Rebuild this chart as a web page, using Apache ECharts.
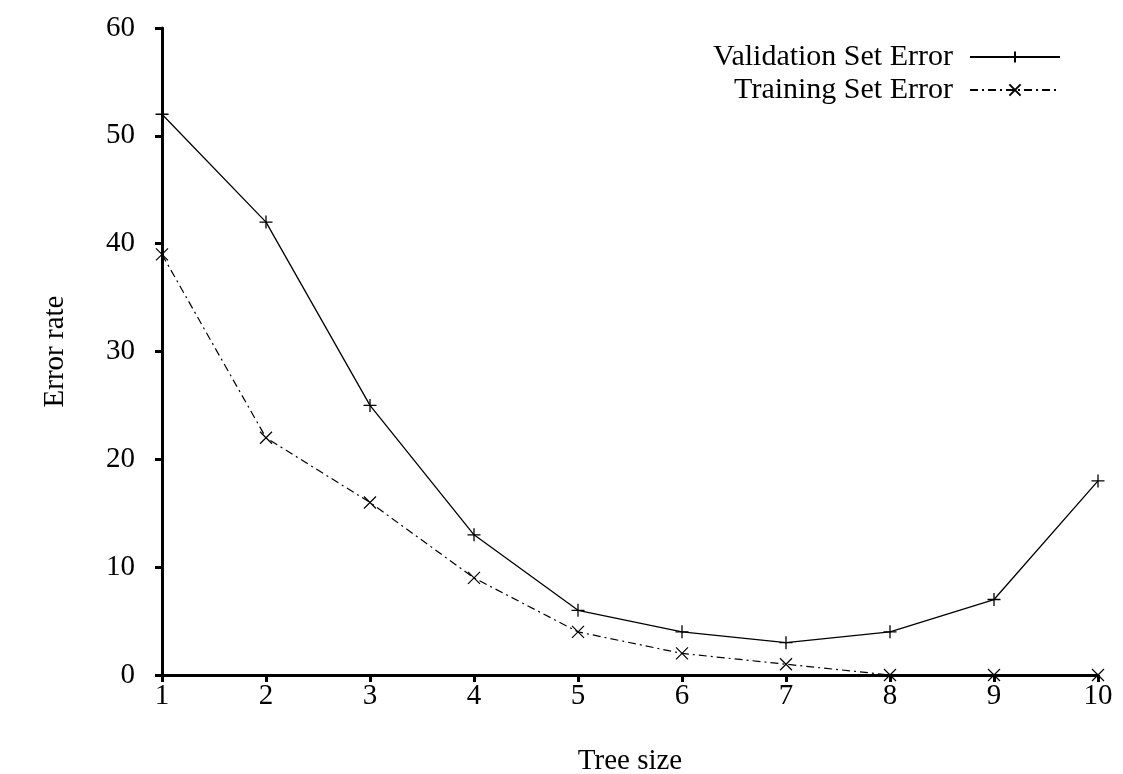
<!DOCTYPE html>
<html>
<head>
<meta charset="utf-8">
<script src="https://cdn.jsdelivr.net/npm/echarts@6/dist/echarts.min.js"></script>
<style>html,body{margin:0;padding:0;background:#fff;}#c{width:1123px;height:774px;}</style>
</head>
<body>
<div id="c"></div>
<script>
const treeSizes = [1, 2, 3, 4, 5, 6, 7, 8, 9, 10];
const validationError = [52, 42, 25, 13, 6, 4, 3, 4, 7, 18];
const trainingError = [39, 22, 16, 9, 4, 2, 1, 0, 0, 0];
const seriesNames = ['Validation Set Error', 'Training Set Error'];

const FONT = 'Liberation Serif';
const plusPath = 'path://M5,0 L5,10 M0,5 L10,5';
const crossPath = 'path://M0,0 L10,10 M10,0 L0,10';

const chart = echarts.init(document.getElementById('c'));
chart.setOption({
  animation: false,
  backgroundColor: '#fff',
  grid: { left: 162, right: 25, top: 28, bottom: 99, outerBoundsMode: 'none', containLabel: false },
  legend: [
    {
      data: [seriesNames[0]], right: 57, top: 37, align: 'right', orient: 'vertical',
      itemWidth: 90, itemHeight: 14, itemGap: 20,
      textStyle: { fontFamily: FONT, fontSize: 30, color: '#000', padding: [0, 12, 0, 0] }
    },
    {
      data: [seriesNames[1]], right: 57, top: 70, align: 'right', orient: 'vertical',
      itemWidth: 90, itemHeight: 14, itemGap: 20,
      textStyle: { fontFamily: FONT, fontSize: 30, color: '#000', padding: [0, 12, 0, 0] }
    }
  ],
  xAxis: {
    type: 'value', min: 1, max: 10, interval: 1,
    name: 'Tree size', nameLocation: 'middle', nameGap: 72,
    nameTextStyle: { fontFamily: FONT, fontSize: 29, color: '#000' },
    axisLine: { show: true, onZero: false, lineStyle: { color: '#000', width: 3 } },
    axisTick: { show: true, length: 7, lineStyle: { color: '#000', width: 3 } },
    axisLabel: { fontFamily: FONT, fontSize: 29, color: '#000', margin: 7 },
    splitLine: { show: false }
  },
  yAxis: {
    type: 'value', min: 0, max: 60, interval: 10,
    name: 'Error rate', nameLocation: 'middle', nameGap: 92, nameRotate: 90,
    nameTextStyle: { fontFamily: FONT, fontSize: 29, color: '#000' },
    axisLine: { show: true, lineStyle: { color: '#000', width: 3 } },
    axisTick: { show: true, length: 7, lineStyle: { color: '#000', width: 3 } },
    axisLabel: { fontFamily: FONT, fontSize: 29, color: '#000', margin: 27 },
    splitLine: { show: false }
  },
  series: [
    {
      name: seriesNames[0], type: 'line',
      data: treeSizes.map((x, i) => [x, validationError[i]]),
      symbol: plusPath, symbolSize: 13, showAllSymbol: true,
      lineStyle: { color: '#000', width: 1.3 },
      itemStyle: { color: 'none', borderColor: '#000', borderWidth: 1.3 },
      z: 3
    },
    {
      name: seriesNames[1], type: 'line',
      data: treeSizes.map((x, i) => [x, trainingError[i]]),
      symbol: crossPath, symbolSize: 12, showAllSymbol: true,
      lineStyle: { color: '#000', width: 1.2, type: [8, 4, 2, 4] },
      itemStyle: { color: 'none', borderColor: '#000', borderWidth: 1.2 },
      z: 3
    }
  ]
});
</script>
</body>
</html>
